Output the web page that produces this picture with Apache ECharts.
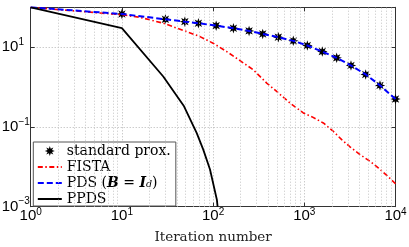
<!DOCTYPE html>
<html>
<head>
<meta charset="utf-8">
<script src="https://cdn.jsdelivr.net/npm/echarts@6/dist/echarts.min.js"></script>
<style>
html,body{margin:0;padding:0;background:#fff;}
#c{width:409px;height:247px;}
</style>
</head>
<body>
<div id="c"></div>
<script>
// ---- data ----
const stdIter = [10, 30, 49, 69, 108, 167, 248, 350, 519, 757, 1080, 1575, 2265, 3250, 4710, 6760, 10000];
const stdVal  = [68, 50, 43.7, 39.8, 34.7, 29.9, 25.6, 21.5, 17.8, 14.4, 11, 7.76, 5.4, 3.47, 2.07, 1.1, 0.5];

const pdsIter = [1, 10, 30, 49, 69, 108, 167, 248, 350, 519, 757, 1080, 1575, 2265, 3250, 4710, 6760, 10000];
const pdsVal  = [100, 68, 50, 43.7, 39.8, 34.7, 29.9, 25.6, 21.5, 17.8, 14.4, 11, 7.76, 5.4, 3.47, 2.07, 1.1, 0.5];

const fistaIter = [1, 10, 15.8, 28.4, 51.3, 71.8, 100, 141, 197, 276, 387, 498, 697, 975, 1205, 1616, 2080, 2570, 3170, 4080, 5250, 6470, 8220, 10000];
const fistaVal  = [100, 65, 56, 40, 24.5, 18.4, 12.6, 7.76, 4.62, 2.71, 1.26, 0.776, 0.398, 0.224, 0.181, 0.126, 0.0776, 0.0481, 0.0316, 0.0203, 0.0138, 0.00944, 0.00582, 0.00376];

const ppdsIter = [1, 10, 28.4, 48, 66, 78, 92.5, 110, 112];
const ppdsVal  = [100, 30, 1.84, 0.33, 0.0708, 0.027, 0.0086, 0.0015, 0.001];

const seriesNames = ['standard prox.', 'FISTA', 'PDS (B = I_d)', 'PPDS'];
const xLabel = 'Iteration number';
const xRange = [1, 10000];
const yRange = [0.001, 100];
const minorGridX = [];
for (let k = 0; k < 4; k++) for (let m = 2; m <= 9; m++) minorGridX.push(m * Math.pow(10, k));

// ---- helpers ----
function zip(a, b) { return a.map((v, i) => [v, b[i]]); }
function starPath() {
  let s = '';
  for (let i = 0; i < 16; i++) {
    const ang = i * Math.PI / 8 - Math.PI / 2;
    const r = (i % 2 === 0) ? 10 : 4.8;
    const x = (10 + r * Math.cos(ang)).toFixed(2);
    const y = (10 + r * Math.sin(ang)).toFixed(2);
    s += (i === 0 ? 'M' : 'L') + x + ' ' + y + ' ';
  }
  return 'path://' + s + 'Z';
}
const STAR = starPath();
function powLabel(v) {
  const e = Math.round(Math.log10(v));
  const es = e < 0 ? '\u2212' + (-e) : String(e);
  return '{b|10}{s|' + es + '}';
}
const labelRich = {
  b: { fontFamily: 'Liberation Sans', fontSize: 15, lineHeight: 16, color: '#000' },
  s: { fontFamily: 'Liberation Sans', fontSize: 10, lineHeight: 6, verticalAlign: 'top', color: '#000' }
};
const yLabelRich = {
  b: { fontFamily: 'Liberation Sans', fontSize: 15, lineHeight: 20, color: '#000' },
  s: { fontFamily: 'Liberation Sans', fontSize: 10, lineHeight: 10, verticalAlign: 'top', color: '#000' }
};
const gridDot = { color: '#b5b5b5', width: 1, type: [1, 2] };
const axisCol = '#333';
const hiddenSym = { opacity: 0 };

const chart = echarts.init(document.getElementById('c'), null, { renderer: 'canvas' });
chart.setOption({
  animation: false,
  backgroundColor: '#fff',
  grid: { left: 30.7, right: 13.5, top: 7.3, bottom: 40.3, containLabel: false, outerBoundsMode: 'none' },
  xAxis: [
    {
      type: 'log', logBase: 10, min: xRange[0], max: xRange[1], position: 'bottom',
      axisLine: { show: true, lineStyle: { color: axisCol, width: 1 } },
      axisTick: { show: true, inside: true, length: 4, lineStyle: { color: axisCol } },
      axisLabel: { margin: 1, formatter: powLabel, rich: labelRich },
      splitLine: { show: true, lineStyle: gridDot },
      name: xLabel, nameLocation: 'middle', nameGap: 24,
      nameTextStyle: { fontFamily: 'DejaVu Serif', fontSize: 13.5, color: '#222' }
    },
    {
      type: 'log', logBase: 10, min: xRange[0], max: xRange[1], position: 'top',
      axisLine: { show: true, lineStyle: { color: axisCol, width: 1 } },
      axisTick: { show: true, inside: true, length: 4, lineStyle: { color: axisCol } },
      axisLabel: { show: false }, splitLine: { show: false }
    }
  ],
  yAxis: [
    {
      type: 'log', logBase: 10, min: yRange[0], max: yRange[1], interval: 2, position: 'left',
      axisLine: { show: true, lineStyle: { color: axisCol, width: 1 } },
      axisTick: { show: true, inside: true, length: 4, lineStyle: { color: axisCol } },
      axisLabel: {
        align: 'left', margin: 29,
        formatter: function (v) { return Math.round(Math.log10(v)) >= 2 ? '' : powLabel(v); },
        rich: yLabelRich
      },
      splitLine: { show: true, lineStyle: gridDot }
    },
    {
      type: 'log', logBase: 10, min: yRange[0], max: yRange[1], interval: 2, position: 'right',
      axisLine: { show: true, lineStyle: { color: axisCol, width: 1 } },
      axisTick: { show: true, inside: true, length: 4, lineStyle: { color: axisCol } },
      axisLabel: { show: false }, splitLine: { show: false }
    }
  ],
  legend: {
    orient: 'vertical', left: 33.3, top: 142,
    padding: [2, 5, 0, 3.5], itemGap: 2, itemWidth: 24, itemHeight: 10,
    backgroundColor: '#fff', borderColor: '#555', borderWidth: 1, borderRadius: 0,
    selectedMode: false,
    data: [
      { name: seriesNames[0], icon: STAR },
      { name: seriesNames[1], itemStyle: hiddenSym },
      { name: seriesNames[2], itemStyle: hiddenSym },
      { name: seriesNames[3], itemStyle: hiddenSym }
    ],
    formatter: function (name) {
      if (name === seriesNames[2]) return '{n|PDS (}{bi|B}{n| = }{bi|I}{sub|d}{n|)}';
      return '{n|' + name + '}';
    },
    textStyle: {
      fontFamily: 'DejaVu Serif', fontSize: 14, color: '#000', lineHeight: 13.4,
      rich: {
        n: { fontFamily: 'DejaVu Serif', fontSize: 14, lineHeight: 13.4, color: '#000' },
        bi: { fontFamily: 'DejaVu Serif', fontSize: 14, fontStyle: 'italic', fontWeight: 'bold', lineHeight: 13.4, color: '#000' },
        sub: { fontFamily: 'DejaVu Serif', fontSize: 9.5, fontStyle: 'italic', lineHeight: 9, verticalAlign: 'bottom', color: '#000' }
      }
    }
  },
  series: [
    {
      name: '_grid', type: 'line', data: [], z: 1, silent: true, symbol: 'none',
      markLine: {
        silent: true, symbol: 'none', label: { show: false },
        lineStyle: { color: '#c4c4c4', width: 1, type: [1, 2] },
        data: minorGridX.map(v => ({ xAxis: v }))
      }
    },
    {
      name: seriesNames[0], type: 'line', data: zip(stdIter, stdVal), z: 3,
      symbol: STAR, symbolSize: 10.5, showSymbol: true,
      itemStyle: { color: '#000' },
      lineStyle: { width: 0, opacity: 0 }
    },
    {
      name: seriesNames[1], type: 'line', data: zip(fistaIter, fistaVal), z: 4,
      symbol: 'none', color: '#ff0000', itemStyle: hiddenSym,
      lineStyle: { color: '#ff0000', width: 1.6, type: [5, 2.5, 1.5, 2.5] }
    },
    {
      name: seriesNames[2], type: 'line', data: zip(pdsIter, pdsVal), z: 5,
      symbol: 'none', color: '#0000ff', itemStyle: hiddenSym,
      lineStyle: { color: '#0000ff', width: 2, type: [6, 3] }
    },
    {
      name: seriesNames[3], type: 'line', data: zip(ppdsIter, ppdsVal), z: 6,
      symbol: 'none', color: '#000', itemStyle: hiddenSym,
      lineStyle: { color: '#000', width: 1.8 }
    }
  ]
});
</script>
</body>
</html>
